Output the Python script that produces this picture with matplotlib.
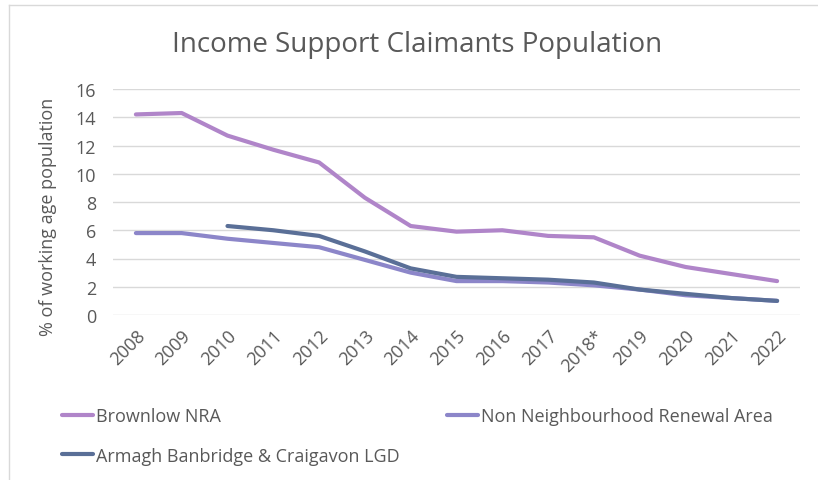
import matplotlib.pyplot as plt
from matplotlib.lines import Line2D
import numpy as np

plt.rcParams['font.family'] = ['Open Sans', 'DejaVu Sans']

years = ["2008", "2009", "2010", "2011", "2012", "2013", "2014", "2015",
         "2016", "2017", "2018*", "2019", "2020", "2021", "2022"]
brownlow = [14.2, 14.3, 12.7, 11.7, 10.8, 8.3, 6.3, 5.9, 6.0, 5.6, 5.5, 4.2, 3.4, 2.9, 2.4]
non_nra = [5.8, 5.8, 5.4, 5.1, 4.8, 3.9, 3.0, 2.4, 2.4, 2.3, 2.1, 1.8, 1.4, 1.2, 1.0]
abc_lgd = [np.nan, np.nan, 6.3, 6.0, 5.6, 4.5, 3.3, 2.7, 2.6, 2.5, 2.3, 1.8, 1.5, 1.2, 1.0]

c_brown = "#B085C9"
c_non = "#8C86C9"
c_lgd = "#5A6F97"
grey = "#595959"

fig = plt.figure(figsize=(8.18, 4.81), dpi=100)
ax = fig.add_axes([113 / 818, 1 - 316 / 481, 687 / 818, 226 / 481])

x = np.arange(len(years))
l1, = ax.plot(x, brownlow, color=c_brown, lw=3, solid_capstyle="round", label="Brownlow NRA")
l2, = ax.plot(x, non_nra, color=c_non, lw=3, solid_capstyle="round", label="Non Neighbourhood Renewal Area")
l3, = ax.plot(x, abc_lgd, color=c_lgd, lw=3, solid_capstyle="round", label="Armagh Banbridge & Craigavon LGD")

ax.set_xlim(-0.5, len(years) - 0.5)
ax.set_ylim(0, 16)
ax.set_yticks(range(0, 17, 2))
ax.set_xticks(x)
ax.set_xticklabels(years, rotation=45, ha="right", rotation_mode="anchor")
ax.tick_params(axis="both", length=0, colors=grey, labelsize=13)
ax.tick_params(axis="y", pad=12)
ax.tick_params(axis="x", pad=8)
for s in ax.spines.values():
    s.set_visible(False)
ax.grid(axis="y", color="#D9D9D9", lw=1)
ax.set_axisbelow(True)

ax.set_ylabel("% of working age population", color=grey, fontsize=13)
ax.yaxis.set_label_coords(-0.082, 0.44)
fig.text(417 / 818, 1 - 45 / 481, "Income Support Claimants Population", ha="center",
         va="center", fontsize=20, color=grey)

# legend: column-major order so LGD sits under Brownlow
fig.legend([l1, l3, l2], [l1.get_label(), l3.get_label(), l2.get_label()],
           ncol=2, loc="upper left", bbox_to_anchor=(62 / 818, 1 - 408 / 481),
           borderpad=0, borderaxespad=0,
           frameon=False, fontsize=13, labelcolor=grey, handlelength=1.7,
           handletextpad=0.2, columnspacing=2.6, labelspacing=1.2)

# faint chart border
fig.add_artist(Line2D([9 / 818, 9 / 818], [0, 1 - 6 / 481], color="#D9D9D9", lw=1))
fig.add_artist(Line2D([9 / 818, 1], [1 - 6 / 481, 1 - 6 / 481], color="#D9D9D9", lw=1))

fig.savefig("out.png", dpi=100)
